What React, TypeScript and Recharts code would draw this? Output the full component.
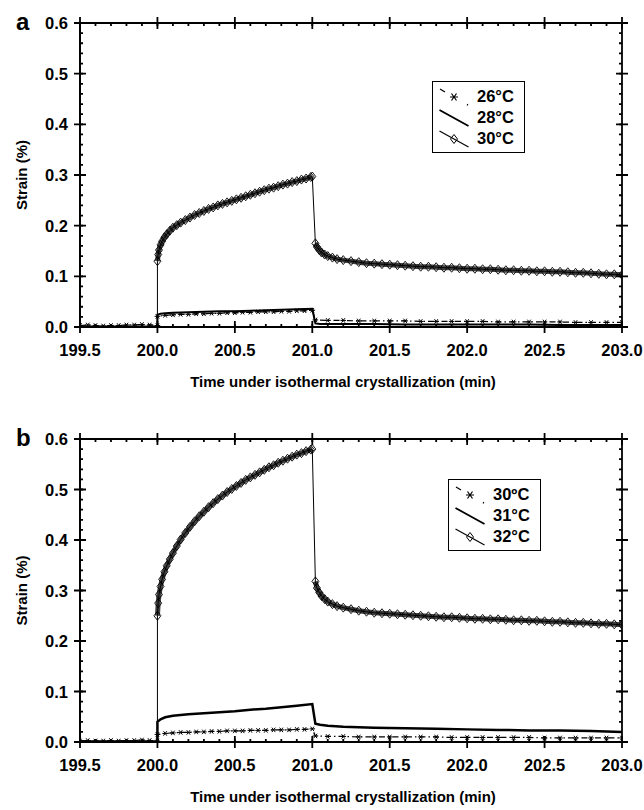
import { LineChart, Line, XAxis, YAxis } from 'recharts'

// time grids (min)
const tDiamond = [
  200.0, 200.0, 200.005, 200.01, 200.02, 200.03, 200.045, 200.06, 200.08, 200.1, 200.125, 200.15,
  200.18, 200.21, 200.24, 200.27, 200.3, 200.33, 200.36, 200.39, 200.42, 200.45, 200.48, 200.51,
  200.54, 200.57, 200.6, 200.63, 200.66, 200.69, 200.72, 200.75, 200.78, 200.81, 200.84, 200.87,
  200.9, 200.93, 200.96, 200.99, 201.0,
  201.02, 201.03, 201.045, 201.06, 201.08, 201.1, 201.13, 201.16, 201.2, 201.25, 201.3,
  201.35, 201.4, 201.45, 201.5, 201.55, 201.6, 201.65, 201.7, 201.75, 201.8, 201.85, 201.9, 201.95,
  202.0, 202.05, 202.1, 202.15, 202.2, 202.25, 202.3, 202.35, 202.4, 202.45, 202.5, 202.55, 202.6,
  202.65, 202.7, 202.75, 202.8, 202.85, 202.9, 202.95, 203.0,
]
const tSolid = [
  199.5, 199.98, 200.0, 200.0, 200.02, 200.05, 200.1, 200.2, 200.3, 200.4, 200.5, 200.6, 200.7,
  200.8, 200.9, 201.0, 201.02, 201.05, 201.1, 201.2, 201.4, 201.6, 201.8, 202.0, 202.2, 202.4,
  202.6, 202.8, 203.0,
]
const tStar = [
  199.5, 199.55, 199.6, 199.65, 199.7, 199.75, 199.8, 199.85, 199.9, 199.95, 200.0,
  200.0, 200.05, 200.1, 200.15, 200.2, 200.25, 200.3, 200.35, 200.4, 200.45, 200.5, 200.55, 200.6,
  200.65, 200.7, 200.75, 200.8, 200.85, 200.9, 200.95, 201.0,
  201.02, 201.1, 201.2, 201.3, 201.4, 201.5, 201.6, 201.7, 201.8, 201.9, 202.0, 202.1, 202.2,
  202.3, 202.4, 202.5, 202.6, 202.7, 202.8, 202.9, 203.0,
]

// panel a: strain (%)
const aStrain30 = [
  0, 0.13, 0.143, 0.152, 0.162, 0.169, 0.177, 0.183, 0.19, 0.196, 0.201, 0.206,
  0.211, 0.216, 0.221, 0.225, 0.229, 0.233, 0.236, 0.24, 0.243, 0.246, 0.249, 0.252,
  0.255, 0.258, 0.261, 0.264, 0.267, 0.27, 0.273, 0.275, 0.278, 0.281, 0.283, 0.286,
  0.288, 0.291, 0.293, 0.296, 0.297,
  0.165, 0.158, 0.152, 0.147, 0.143, 0.14, 0.137, 0.134, 0.132, 0.13, 0.128,
  0.126, 0.125, 0.124, 0.123, 0.122, 0.121, 0.12, 0.119, 0.119, 0.118, 0.117, 0.117, 0.116,
  0.115, 0.115, 0.114, 0.114, 0.113, 0.112, 0.112, 0.111, 0.111, 0.11, 0.11, 0.109, 0.109,
  0.108, 0.107, 0.107, 0.106, 0.105, 0.104, 0.104, 0.103,
]
const aStrain28 = [
  0.001, 0.001, 0.001, 0.024, 0.026, 0.027, 0.028, 0.029, 0.03, 0.031, 0.031, 0.032, 0.033,
  0.034, 0.035, 0.036, 0.007, 0.006, 0.006, 0.006, 0.006, 0.005, 0.005, 0.005, 0.005, 0.005,
  0.004, 0.004, 0.004,
]
const aStrain26 = [
  0.003, 0.004, 0.003, 0.002, 0.003, 0.003, 0.004, 0.004, 0.005, 0.004, 0.003,
  0.021, 0.023, 0.024, 0.025, 0.025, 0.026, 0.026, 0.027, 0.027, 0.028, 0.028, 0.029, 0.029,
  0.03, 0.03, 0.03, 0.031, 0.031, 0.032, 0.032, 0.033,
  0.014, 0.013, 0.013, 0.012, 0.012, 0.012, 0.012, 0.011, 0.011, 0.011, 0.011, 0.011, 0.01,
  0.01, 0.01, 0.01, 0.01, 0.009, 0.009, 0.009, 0.009,
]

// panel b: strain (%)
const bStrain32 = [
  0, 0.25, 0.275, 0.292, 0.308, 0.322, 0.337, 0.349, 0.362, 0.374, 0.388, 0.401,
  0.414, 0.426, 0.437, 0.447, 0.456, 0.465, 0.473, 0.481, 0.488, 0.495, 0.501, 0.507,
  0.513, 0.519, 0.524, 0.529, 0.534, 0.539, 0.544, 0.548, 0.553, 0.557, 0.561, 0.565,
  0.569, 0.572, 0.576, 0.579, 0.58,
  0.318, 0.305, 0.296, 0.289, 0.283, 0.278, 0.273, 0.269, 0.266, 0.263, 0.26,
  0.258, 0.256, 0.255, 0.254, 0.253, 0.252, 0.251, 0.25, 0.249, 0.248, 0.247, 0.247, 0.246,
  0.245, 0.244, 0.244, 0.243, 0.243, 0.242, 0.241, 0.241, 0.24, 0.24, 0.239, 0.238, 0.238,
  0.237, 0.236, 0.236, 0.235, 0.234, 0.234, 0.233, 0.232,
]
const bStrain31 = [
  0.001, 0.001, 0.001, 0.04, 0.045, 0.049, 0.052, 0.055, 0.057, 0.059, 0.061, 0.064, 0.066,
  0.069, 0.072, 0.075, 0.036, 0.034, 0.032, 0.03, 0.028, 0.027, 0.026, 0.025, 0.024, 0.023,
  0.023, 0.022, 0.02,
]
const bStrain30 = [
  0.002, 0.003, 0.002, 0.002, 0.003, 0.002, 0.003, 0.003, 0.004, 0.003, 0.002,
  0.015, 0.017, 0.018, 0.019, 0.019, 0.02, 0.02, 0.021, 0.021, 0.022, 0.022, 0.022, 0.023,
  0.023, 0.023, 0.024, 0.024, 0.024, 0.025, 0.025, 0.026,
  0.012, 0.011, 0.011, 0.01, 0.01, 0.01, 0.01, 0.01, 0.01, 0.009, 0.009, 0.009, 0.009, 0.009,
  0.009, 0.008, 0.008, 0.008, 0.008, 0.008, 0.008,
]

// major ticks get labels, minor ticks are only small marks inside the frame
const xMajor = [199.5, 200.0, 200.5, 201.0, 201.5, 202.0, 202.5, 203.0]
const yMajor = [0, 0.1, 0.2, 0.3, 0.4, 0.5, 0.6]
const xMinor = Array.from({ length: 36 }, (_, i) => Math.round((199.5 + i * 0.1) * 10) / 10)
const yMinor = Array.from({ length: 31 }, (_, i) => Math.round(i * 2) / 100)

const FONT = '"Liberation Sans", Arial, sans-serif'
const X_DOMAIN: [number, number] = [199.5, 203]
const Y_DOMAIN: [number, number] = [0, 0.6]
const CHART_W = 644
const M_RIGHT = 22
const M_LEFT_AXIS = 80
const TICK_MARGIN = 10

const zip = (t: number[], s: number[]) => t.map((x, i) => ({ t: x, s: s[i] as number | null }))

// the dense overlapping diamonds form a dark band; the vertical jumps stay thin
const bandData = (s: number[]) => {
  const pts = zip(tDiamond, s).slice(1)
  const drop = pts.findIndex(d => d.t > 201.005)
  return [...pts.slice(0, drop), { t: 201.01, s: null }, ...pts.slice(drop)]
}

const diamondDot = (p: any) => {
  const key = `dm-${p.index}`
  if (p.index === 0 || p.cx == null) return <g key={key} />
  const { cx, cy } = p
  return (
    <path key={key} d={`M${cx},${cy - 4.5}L${cx + 3.5},${cy}L${cx},${cy + 4.5}L${cx - 3.5},${cy}Z`}
      fill="none" stroke="#000" strokeWidth={0.9} />
  )
}

const starDot = (p: any) => {
  const key = `st-${p.index}`
  if (p.cx == null) return <g key={key} />
  const { cx, cy } = p
  const r = 2.8
  return (
    <path key={key}
      d={`M${cx - r},${cy}L${cx + r},${cy}M${cx - r * 0.6},${cy - r * 0.8}L${cx + r * 0.6},${cy + r * 0.8}M${cx - r * 0.6},${cy + r * 0.8}L${cx + r * 0.6},${cy - r * 0.8}`}
      stroke="#000" strokeWidth={1} fill="none" />
  )
}

type LegendItem = { label: string; kind: 'star' | 'solid' | 'diamond' }

function LegendBox({ left, top, items }: { left: number; top: number; items: LegendItem[] }) {
  return (
    <div style={{
      position: 'absolute', left, top, width: 93, height: 72, border: '1.5px solid #000',
      boxSizing: 'border-box', background: '#fff', fontFamily: FONT, fontWeight: 700, fontSize: 16.5,
    }}>
      {items.map((it, i) => (
        <div key={it.label} style={{ position: 'absolute', left: 5, top: 4 + i * 21, height: 21, display: 'flex', alignItems: 'center' }}>
          <svg width={32} height={20} style={{ display: 'block' }}>
            {it.kind === 'star' ? (
              <g>
                <line x1={2} y1={2} x2={7} y2={5} stroke="#000" strokeWidth={1.2} />
                <line x1={29} y1={17.5} x2={30} y2={18} stroke="#000" strokeWidth={1.5} />
                <path d="M12,10L20,10M13.5,6.5L18.5,13.5M13.5,13.5L18.5,6.5" stroke="#000" strokeWidth={1.2} />
              </g>
            ) : (
              <line x1={1.5} y1={2} x2={30.5} y2={18} stroke="#000" strokeWidth={it.kind === 'solid' ? 1.8 : 1.2} />
            )}
            {it.kind === 'diamond' && (
              <path d="M16,5.5L19.5,10L16,14.5L12.5,10Z" fill="none" stroke="#000" strokeWidth={1} />
            )}
          </svg>
          <span style={{ marginLeft: 7, lineHeight: '21px' }}>{it.label}</span>
        </div>
      ))}
    </div>
  )
}

interface PanelProps {
  id: string
  tag: string
  top: number
  height: number
  marginTop: number
  xHeight: number
  titleGap: number
  diamond: number[]
  solid: number[]
  star: number[]
  solidWidth: number
  legend: LegendItem[]
  legendLeft: number
  legendTop: number
}

const labelStyle = { fontFamily: FONT, fontWeight: 700, fontSize: 16.5, fill: '#000' }
const frameStroke = { stroke: '#000', strokeWidth: 1.8 }

// boxed frame with crossing major ticks and small inner minor ticks on all four sides
function Frame({ offsetY, plotTop, plotBottom }: { offsetY: number; plotTop: number; plotBottom: number }) {
  const plotLeft = M_LEFT_AXIS
  const plotRight = CHART_W - M_RIGHT
  const top = offsetY + plotTop
  const bottom = offsetY + plotBottom
  const xPos = (v: number) => plotLeft + (v - X_DOMAIN[0]) / (X_DOMAIN[1] - X_DOMAIN[0]) * (plotRight - plotLeft)
  const yPos = (v: number) => bottom - (v - Y_DOMAIN[0]) / (Y_DOMAIN[1] - Y_DOMAIN[0]) * (bottom - top)
  return (
    <g>
      <line x1={plotLeft} x2={plotRight} y1={top} y2={top} {...frameStroke} />
      <line x1={plotRight} x2={plotRight} y1={top} y2={bottom} {...frameStroke} />
      <line x1={plotLeft} x2={plotRight} y1={bottom} y2={bottom} {...frameStroke} />
      <line x1={plotLeft} x2={plotLeft} y1={top} y2={bottom} {...frameStroke} />
      {xMinor.map(v => (
        <path key={`xm-${v}`} d={`M${xPos(v)},${bottom - 3}V${bottom}M${xPos(v)},${top}V${top + 3}`} {...frameStroke} />
      ))}
      {xMajor.map(v => (
        <path key={`xM-${v}`} d={`M${xPos(v)},${bottom - 6}V${bottom + 6}M${xPos(v)},${top - 6}V${top + 6}`} {...frameStroke} />
      ))}
      {yMinor.map(v => (
        <path key={`ym-${v}`} d={`M${plotLeft},${yPos(v)}H${plotLeft + 3}M${plotRight - 3},${yPos(v)}H${plotRight}`} {...frameStroke} />
      ))}
      {yMajor.map(v => (
        <path key={`yM-${v}`} d={`M${plotLeft - 6},${yPos(v)}H${plotLeft + 6}M${plotRight - 6},${yPos(v)}H${plotRight + 6}`} {...frameStroke} />
      ))}
    </g>
  )
}

function Panel(p: PanelProps) {
  const xTick = (props: any) => {
    const { x, y, payload } = props
    return (
      <text x={x} y={y - TICK_MARGIN + 23} textAnchor="middle" dominantBaseline="central" style={labelStyle}>
        {payload.value.toFixed(1)}
      </text>
    )
  }
  const yTick = (props: any) => {
    const { x, y, payload } = props
    return (
      <text x={x + TICK_MARGIN - 12} y={y} textAnchor="end" dominantBaseline="central" style={labelStyle}>
        {payload.value.toFixed(1)}
      </text>
    )
  }
  const xTitle = (props: any) => {
    const vb = props.viewBox
    return (
      <text x={vb.x + vb.width / 2 - 8} y={vb.y + p.titleGap} textAnchor="middle" dominantBaseline="central"
        style={{ fontFamily: FONT, fontWeight: 700, fontSize: 15, fill: '#000' }}>
        Time under isothermal crystallization (min)
      </text>
    )
  }
  const yTitle = (props: any) => {
    const vb = props.viewBox
    const cx = vb.x + 21
    const cy = vb.y + vb.height / 2
    return (
      <text x={cx} y={cy} transform={`rotate(-90 ${cx} ${cy})`} textAnchor="middle" dominantBaseline="central"
        style={{ fontFamily: FONT, fontWeight: 700, fontSize: 15, fill: '#000' }}>
        Strain (%)
      </text>
    )
  }

  return (
    <div style={{ position: 'absolute', left: 0, top: p.top, width: CHART_W, height: p.height }}>
      <LineChart id={p.id} width={CHART_W} height={p.height} margin={{ top: p.marginTop, right: M_RIGHT, bottom: 0, left: 0 }}>
        <XAxis xAxisId="x" dataKey="t" type="number" domain={X_DOMAIN} allowDataOverflow ticks={xMajor} interval={0}
          height={p.xHeight} tickSize={0} tickMargin={TICK_MARGIN} tickLine={false} tick={xTick}
          stroke="#000" strokeWidth={1.8}
          label={{ value: 'Time under isothermal crystallization (min)', content: xTitle }} />
        <YAxis yAxisId="y" type="number" domain={Y_DOMAIN} allowDataOverflow ticks={yMajor} interval={0}
          width={M_LEFT_AXIS} tickSize={0} tickMargin={TICK_MARGIN} tickLine={false} tick={yTick}
          stroke="#000" strokeWidth={1.8}
          label={{ value: 'Strain (%)', content: yTitle }} />

        <Line xAxisId="x" yAxisId="y" data={zip(tStar, p.star)} dataKey="s" stroke="#000" strokeWidth={1.2}
          strokeDasharray="6 3 1.5 3" dot={starDot} isAnimationActive={false} />
        <Line xAxisId="x" yAxisId="y" data={zip(tSolid, p.solid)} dataKey="s" stroke="#000" strokeWidth={p.solidWidth}
          dot={false} isAnimationActive={false} />
        <Line xAxisId="x" yAxisId="y" data={bandData(p.diamond)} dataKey="s" stroke="#404040" strokeWidth={5}
          dot={false} isAnimationActive={false} />
        <Line xAxisId="x" yAxisId="y" data={zip(tDiamond, p.diamond)} dataKey="s" stroke="#000" strokeWidth={1}
          dot={diamondDot} isAnimationActive={false} />
      </LineChart>
      <div style={{ position: 'absolute', left: 16, top: p.marginTop - 14, fontFamily: FONT, fontWeight: 700, fontSize: 24, lineHeight: '26px' }}>
        {p.tag}
      </div>
      <LegendBox left={p.legendLeft} top={p.legendTop} items={p.legend} />
    </div>
  )
}

export default function App() {
  return (
    <div style={{ position: 'absolute', left: 0, top: 0, width: 644, height: 810, background: '#fff' }}>
      <Panel id="strain-a" tag="a" top={0} height={410} marginTop={23} xHeight={83} titleGap={54}
        diamond={aStrain30} solid={aStrain28} star={aStrain26} solidWidth={2}
        legend={[{ label: '26°C', kind: 'star' }, { label: '28°C', kind: 'solid' }, { label: '30°C', kind: 'diamond' }]}
        legendLeft={432} legendTop={81} />
      <Panel id="strain-b" tag="b" top={414} height={396} marginTop={25} xHeight={68} titleGap={54}
        diamond={bStrain32} solid={bStrain31} star={bStrain30} solidWidth={2.5}
        legend={[{ label: '30ºC', kind: 'star' }, { label: '31°C', kind: 'solid' }, { label: '32°C', kind: 'diamond' }]}
        legendLeft={448} legendTop={65} />
      <svg width={644} height={810} style={{ position: 'absolute', left: 0, top: 0, zIndex: 10, pointerEvents: 'none' }}>
        <Frame offsetY={0} plotTop={23} plotBottom={410 - 83} />
        <Frame offsetY={414} plotTop={25} plotBottom={396 - 68} />
      </svg>
    </div>
  )
}
